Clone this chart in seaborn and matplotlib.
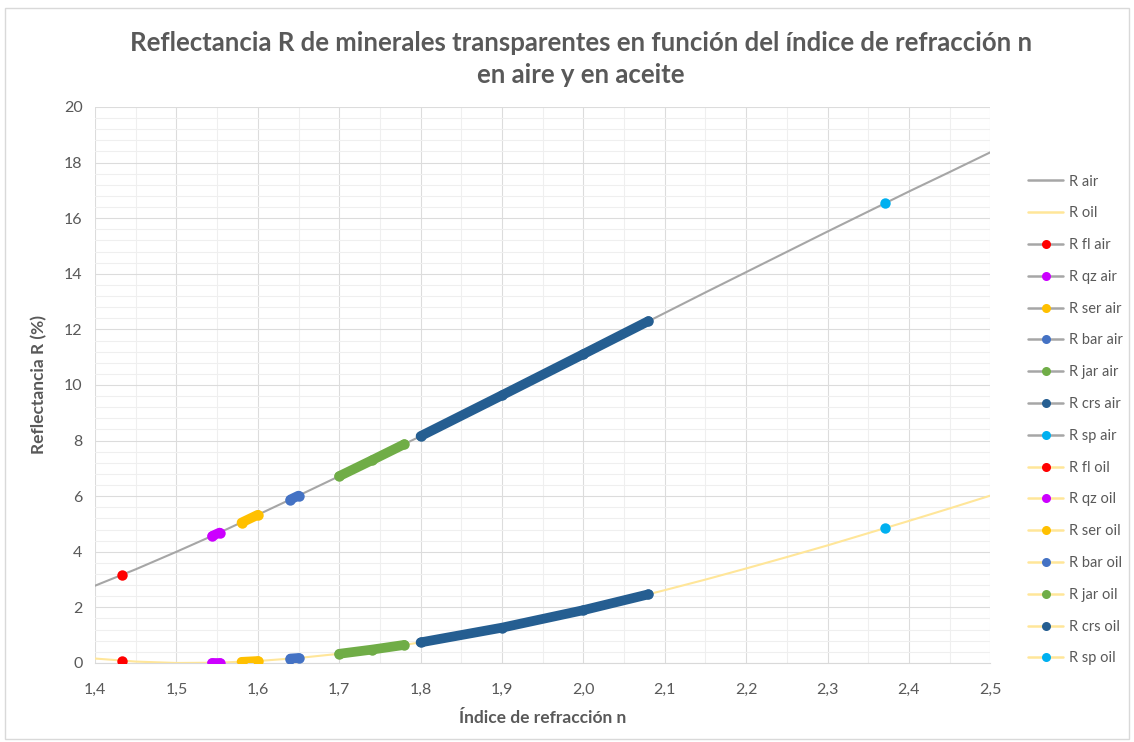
import numpy as np
import pandas as pd
import matplotlib
matplotlib.use("Agg")
import matplotlib.pyplot as plt
from matplotlib.lines import Line2D
from matplotlib.ticker import MultipleLocator, FuncFormatter
import seaborn as sns

# refractive index grid and reflectance curves (%)
n_curve = [1.40, 1.45, 1.50, 1.55, 1.60, 1.65, 1.70, 1.75, 1.80, 1.85, 1.90, 1.95,
           2.00, 2.05, 2.10, 2.15, 2.20, 2.25, 2.30, 2.35, 2.40, 2.45, 2.50]
r_air = [2.78, 3.37, 4.00, 4.65, 5.33, 6.02, 6.72, 7.44, 8.16, 8.90, 9.63, 10.37,
         11.11, 11.85, 12.59, 13.33, 14.06, 14.79, 15.52, 16.24, 16.96, 17.66, 18.37]
r_oil = [0.16, 0.05, 0.00, 0.01, 0.07, 0.18, 0.33, 0.52, 0.74, 0.99, 1.27, 1.58,
         1.90, 2.25, 2.62, 3.00, 3.40, 3.81, 4.23, 4.67, 5.11, 5.56, 6.02]

# minerals: index ranges and reflectance in air / oil
minerals = ["fl", "qz", "ser", "bar", "jar", "crs", "sp"]
mineral_n = {
    "fl": [1.433],
    "qz": [1.544, 1.553],
    "ser": [1.58, 1.60],
    "bar": [1.64, 1.65],
    "jar": [1.70, 1.74, 1.78],
    "crs": [1.80, 1.90, 2.00, 2.08],
    "sp": [2.37],
}
mineral_air = {
    "fl": [3.17],
    "qz": [4.57, 4.69],
    "ser": [5.05, 5.33],
    "bar": [5.88, 6.02],
    "jar": [6.72, 7.29, 7.87],
    "crs": [8.16, 9.63, 11.11, 12.30],
    "sp": [16.53],
}
mineral_oil = {
    "fl": [0.08],
    "qz": [0.01, 0.01],
    "ser": [0.04, 0.07],
    "bar": [0.16, 0.18],
    "jar": [0.33, 0.48, 0.65],
    "crs": [0.74, 1.27, 1.90, 2.47],
    "sp": [4.84],
}
mineral_colors = {
    "fl": "#FF0000", "qz": "#CC00FF", "ser": "#FFC000", "bar": "#4472C4",
    "jar": "#70AD47", "crs": "#255E91", "sp": "#00B0F0",
}
air_color = "#A6A6A6"
oil_color = "#FFE699"
text_color = "#595959"

sns.set_style("white")
plt.rcParams["font.family"] = ["Lato", "DejaVu Sans"]

fig = plt.figure(figsize=(11.34, 7.42), dpi=100)
ax = fig.add_axes([0.0838, 0.1065, 0.7895, 0.7493])

curves = pd.DataFrame({
    "n": n_curve * 2,
    "R": r_air + r_oil,
    "serie": ["R air"] * len(n_curve) + ["R oil"] * len(n_curve),
})
sns.lineplot(data=curves, x="n", y="R", hue="serie",
             palette={"R air": air_color, "R oil": oil_color},
             linewidth=1.5, legend=False, ax=ax, zorder=2)

for m in minerals:
    for vals in (mineral_air, mineral_oil):
        ax.plot(mineral_n[m], vals[m], color=mineral_colors[m], lw=7,
                solid_capstyle="round", marker="o", ms=7.5, mec="none", zorder=3)

ax.set_xlim(1.4, 2.5)
ax.set_ylim(0, 20)
ax.xaxis.set_major_locator(MultipleLocator(0.1))
ax.xaxis.set_minor_locator(MultipleLocator(0.05))
ax.yaxis.set_major_locator(MultipleLocator(2))
ax.yaxis.set_minor_locator(MultipleLocator(0.4))
ax.xaxis.set_major_formatter(FuncFormatter(lambda v, p: f"{v:.1f}".replace(".", ",")))
ax.yaxis.set_major_formatter(FuncFormatter(lambda v, p: f"{v:.0f}"))
ax.grid(which="major", color="#DCDCDC", lw=0.8)
ax.grid(which="minor", color="#EFEFEF", lw=0.8)
ax.set_axisbelow(True)
for s in ["top", "right", "left"]:
    ax.spines[s].set_visible(False)
ax.spines["bottom"].set_color("#D9D9D9")
ax.tick_params(axis="both", which="both", length=0, colors=text_color, labelsize=11.5)
ax.tick_params(axis="x", pad=14)
ax.tick_params(axis="y", pad=9)

ax.set_xlabel("Índice de refracción n", fontsize=12.5, fontweight="bold", color=text_color, labelpad=10)
ax.set_ylabel("Reflectancia R (%)", fontsize=12.5, fontweight="bold", color=text_color, labelpad=12)

fig.text(0.512, 0.921, "Reflectancia R de minerales transparentes en función del índice de refracción n\nen aire y en aceite",
         ha="center", va="center", fontsize=18.5, fontweight="bold", color=text_color, linespacing=1.4)

handles = [Line2D([], [], color=air_color, lw=1.8, label="R air"),
           Line2D([], [], color=oil_color, lw=1.8, label="R oil")]
for base, base_color in (("air", air_color), ("oil", oil_color)):
    for m in minerals:
        handles.append(Line2D([], [], color=base_color, lw=1.8, marker="o", ms=6.5,
                              mfc=mineral_colors[m], mec="none", label=f"R {m} {base}"))
leg = fig.legend(handles=handles, loc="center left", bbox_to_anchor=(0.895, 0.434),
                 frameon=False, fontsize=10.5, labelspacing=1.22, handlelength=2.4,
                 handletextpad=0.4, numpoints=1)
for t in leg.get_texts():
    t.set_color(text_color)

fig.patches.append(plt.Rectangle((0.004, 0.004), 0.992, 0.985, transform=fig.transFigure,
                                 fill=False, edgecolor="#D9D9D9", lw=1))

fig.savefig("out.png", dpi=100, facecolor="white")
